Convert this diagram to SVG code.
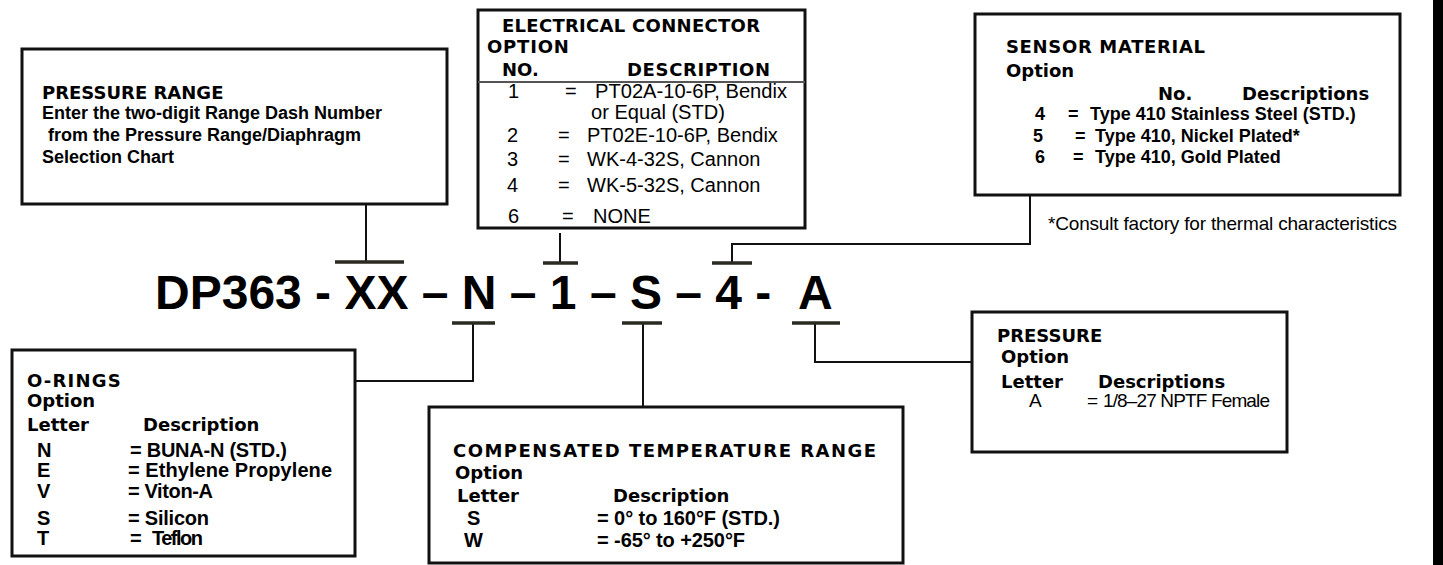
<svg xmlns="http://www.w3.org/2000/svg" width="1443" height="565" viewBox="0 0 1443 565">
<style>
.box{fill:#fff;stroke:#111;stroke-width:3}
.con{fill:none;stroke:#111;stroke-width:2}
.tick{fill:none;stroke:#2a2a22;stroke-width:3.5}
.h{font-family:"DejaVu Sans",Verdana,sans-serif;font-weight:bold;font-size:18px;fill:#000}
.b{font-family:"Liberation Sans",Arial,sans-serif;font-weight:bold;font-size:18px;fill:#000}
.b2{font-family:"Liberation Sans",Arial,sans-serif;font-weight:bold;font-size:20px;fill:#000}
.r{font-family:"Liberation Sans",Arial,sans-serif;font-size:19px;fill:#000}
.e{font-family:"Liberation Sans",Arial,sans-serif;font-size:20px;fill:#000}
.code{font-family:"Liberation Sans",Arial,sans-serif;font-weight:bold;font-size:48px;fill:#000}
</style>
<rect width="1443" height="565" fill="#fff"/>
<rect x="1433" y="0" width="10" height="565" fill="#000"/>

<g id="connectors">
<path class="con" d="M366 204 V262"/>
<path class="tick" d="M335 262 H404"/>
<path class="con" d="M560 233 V263"/>
<path class="tick" d="M543 263 H578"/>
<path class="con" d="M1030 195 V244 H732 V263"/>
<path class="tick" d="M712 263 H752"/>
<path class="con" d="M355 381 H473 V323"/>
<path class="tick" d="M452 323 H495"/>
<path class="con" d="M643 407 V323"/>
<path class="tick" d="M622 323 H662"/>
<path class="con" d="M972 362 H815 V323"/>
<path class="tick" d="M792 323 H840"/>
</g>

<g id="pressure-range">
<rect class="box" x="22" y="49" width="425" height="155"/>
<text class="h" x="42" y="99">PRESSURE RANGE</text>
<text class="b" x="42" y="119">Enter the two-digit Range Dash Number</text>
<text class="b" x="48" y="141">from the Pressure Range/Diaphragm</text>
<text class="b" x="42" y="163">Selection Chart</text>
</g>

<g id="electrical-connector">
<rect class="box" x="478" y="10" width="327" height="218"/>
<line x1="478" y1="82" x2="805" y2="82" stroke="#555" stroke-width="2"/>
<text class="h" x="502" y="32" textLength="258" lengthAdjust="spacing">ELECTRICAL CONNECTOR</text>
<text class="h" x="487" y="53" letter-spacing="0.8">OPTION</text>
<text class="h" x="502" y="76">NO.</text>
<text class="h" x="627" y="76" textLength="143" lengthAdjust="spacing">DESCRIPTION</text>
<text class="e" font-size="19" x="508" y="98">1</text><text class="e" font-size="19" x="565" y="98">=</text><text class="e" font-size="19" x="595" y="98" textLength="192" lengthAdjust="spacingAndGlyphs">PT02A-10-6P, Bendix</text>
<text class="e" font-size="19" x="591" y="119" textLength="134" lengthAdjust="spacingAndGlyphs">or Equal (STD)</text>
<text class="e" x="507" y="142">2</text><text class="e" x="558" y="142">=</text><text class="e" x="587" y="142">PT02E-10-6P, Bendix</text>
<text class="e" x="507" y="166">3</text><text class="e" x="558" y="166">=</text><text class="e" x="587" y="166">WK-4-32S, Cannon</text>
<text class="e" x="507" y="192">4</text><text class="e" x="558" y="192">=</text><text class="e" x="587" y="192">WK-5-32S, Cannon</text>
<text class="e" x="508" y="223">6</text><text class="e" x="562" y="223">=</text><text class="e" x="593" y="223">NONE</text>
</g>

<g id="sensor-material">
<rect class="box" x="975" y="14" width="425" height="181"/>
<text class="h" x="1006" y="53" textLength="199" lengthAdjust="spacing">SENSOR MATERIAL</text>
<text class="h" x="1006" y="77">Option</text>
<text class="h" x="1158" y="100" font-size="17">No.</text>
<text class="h" x="1242" y="100" font-size="17">Descriptions</text>
<text class="b" x="1035" y="120">4</text><text class="b" x="1068" y="120">=</text><text class="b" x="1090" y="120">Type 410 Stainless Steel (STD.)</text>
<text class="b" x="1033" y="142">5</text><text class="b" x="1075" y="142">=</text><text class="b" x="1095" y="142">Type 410, Nickel Plated*</text>
<text class="b" x="1035" y="163">6</text><text class="b" x="1073" y="163">=</text><text class="b" x="1095" y="163">Type 410, Gold Plated</text>
</g>
<text class="r" x="1048" y="230" font-size="16.5" textLength="349" lengthAdjust="spacing">*Consult factory for thermal characteristics</text>

<g id="part-code">
<text class="code" x="155" y="309">DP363 - XX – N – 1 – S – 4 -<tspan x="798">A</tspan></text>
</g>

<g id="o-rings">
<rect class="box" x="12" y="350" width="343" height="206"/>
<text class="h" x="27" y="387" letter-spacing="1.2">O-RINGS</text>
<text class="h" x="27" y="407">Option</text>
<text class="h" x="27" y="431">Letter</text>
<text class="h" x="143" y="431">Description</text>
<text class="b2" x="37" y="457">N</text><text class="b2" x="130" y="457" textLength="157" lengthAdjust="spacing">= BUNA-N (STD.)</text>
<text class="b2" x="37" y="477">E</text><text class="b2" x="128" y="477" textLength="204" lengthAdjust="spacing">= Ethylene Propylene</text>
<text class="b2" x="37" y="498">V</text><text class="b2" x="128" y="498" textLength="85" lengthAdjust="spacing">= Viton-A</text>
<text class="b2" x="37" y="525">S</text><text class="b2" x="128" y="525" textLength="81" lengthAdjust="spacing">= Silicon</text>
<text class="b2" x="37" y="545">T</text><text class="b2" x="130" y="545">=</text><text class="b2" x="152" y="545" textLength="51" lengthAdjust="spacing">Teflon</text>
</g>

<g id="compensated-temperature">
<rect class="box" x="429" y="407" width="474" height="156"/>
<text class="h" x="453" y="457" textLength="423" lengthAdjust="spacing">COMPENSATED TEMPERATURE RANGE</text>
<text class="h" x="455" y="479">Option</text>
<text class="h" x="457" y="502">Letter</text>
<text class="h" x="613" y="502">Description</text>
<text class="b2" x="467" y="525">S</text><text class="b2" x="597" y="525" textLength="183" lengthAdjust="spacing">= 0° to 160°F (STD.)</text>
<text class="b2" x="464" y="547">W</text><text class="b2" x="597" y="547" textLength="148" lengthAdjust="spacing">= -65° to +250°F</text>
</g>

<g id="pressure">
<rect class="box" x="972" y="312" width="315" height="140"/>
<text class="h" x="997" y="342">PRESSURE</text>
<text class="h" x="1001" y="363">Option</text>
<text class="h" x="1001" y="388">Letter</text>
<text class="h" x="1098" y="388">Descriptions</text>
<text class="r" font-size="17.5" x="1029" y="407">A</text>
<text class="r" font-size="17.5" x="1087" y="407">=</text>
<text class="r" font-size="17.5" x="1103" y="407" textLength="167" lengthAdjust="spacing">1/8–27 NPTF Female</text>
</g>
</svg>
